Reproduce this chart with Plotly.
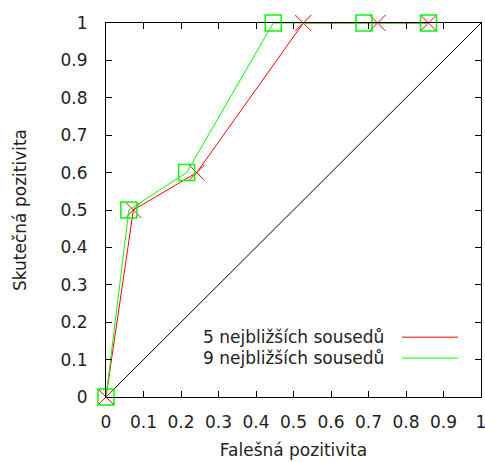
import plotly.graph_objects as go

fp_5 = [0, 0.073, 0.242, 0.526, 0.724, 0.86]
tp_5 = [0, 0.5, 0.6, 1, 1, 1]
fp_9 = [0, 0.061, 0.215, 0.446, 0.688, 0.86]
tp_9 = [0, 0.5, 0.6, 1, 1, 1]
diag_x = [0, 1]
diag_y = [0, 1]
ticks = [0, 0.1, 0.2, 0.3, 0.4, 0.5, 0.6, 0.7, 0.8, 0.9, 1]
tick_text = ["0", "0.1", "0.2", "0.3", "0.4", "0.5", "0.6", "0.7", "0.8", "0.9", "1"]
names = ["5 nejbližších sousedů", "9 nejbližších sousedů"]

FONT = "DejaVu Sans"
FS = 17
TXT = "#222222"
fig = go.Figure()
fig.add_trace(go.Scatter(x=diag_x, y=diag_y, mode="lines",
                         line=dict(color="#000000", width=1), showlegend=False,
                         hoverinfo="skip"))
fig.add_trace(go.Scatter(x=fp_5, y=tp_5, mode="lines+markers", name=names[0],
                         line=dict(color="#ff0000", width=1),
                         marker=dict(symbol="x-thin-open", size=16,
                                     line=dict(color="#ff0000", width=1)),
                         cliponaxis=False, showlegend=False))
fig.add_trace(go.Scatter(x=fp_9, y=tp_9, mode="lines+markers", name=names[1],
                         line=dict(color="#00ff00", width=1),
                         marker=dict(symbol="square-open", size=16,
                                     line=dict(color="#00ff00", width=1.5)),
                         cliponaxis=False, showlegend=False))

# manual legend (text right-aligned, sample line to the right)
leg_y = [0.160, 0.104]
leg_col = ["#ff0000", "#00ff00"]
for name, yy, c in zip(names, leg_y, leg_col):
    fig.add_annotation(x=0.747, y=yy, xref="paper", yref="paper", text=name,
                       showarrow=False, xanchor="right", yanchor="middle",
                       font=dict(family=FONT, size=FS, color=TXT))
    fig.add_shape(type="line", xref="paper", yref="paper", x0=0.789, x1=0.939,
                  y0=yy, y1=yy, line=dict(color=c, width=1))

axis_common = dict(range=[0, 1], tickvals=ticks, ticktext=tick_text,
                   ticks="inside", ticklen=6, tickcolor="#000000",
                   showline=True, linecolor="#000000", linewidth=1.2,
                   mirror="ticks", showgrid=False, zeroline=False,
                   ticklabeloverflow="allow", automargin=False,
                   tickfont=dict(family=FONT, size=FS, color=TXT))
fig.update_xaxes(**axis_common, ticklabelstandoff=9,
                 title=dict(text="Falešná pozitivita",
                            font=dict(family=FONT, size=FS, color=TXT), standoff=13))
fig.update_yaxes(**axis_common, ticklabelstandoff=14,
                 title=dict(text="Skutečná pozitivita",
                            font=dict(family=FONT, size=FS, color=TXT), standoff=29))
fig.update_layout(width=485, height=462, margin=dict(l=106, r=4, t=23, b=65),
                  plot_bgcolor="white", paper_bgcolor="white")
fig.write_html("out.html", config={"displayModeBar": False},
               post_script="document.body.style.margin='0';")
